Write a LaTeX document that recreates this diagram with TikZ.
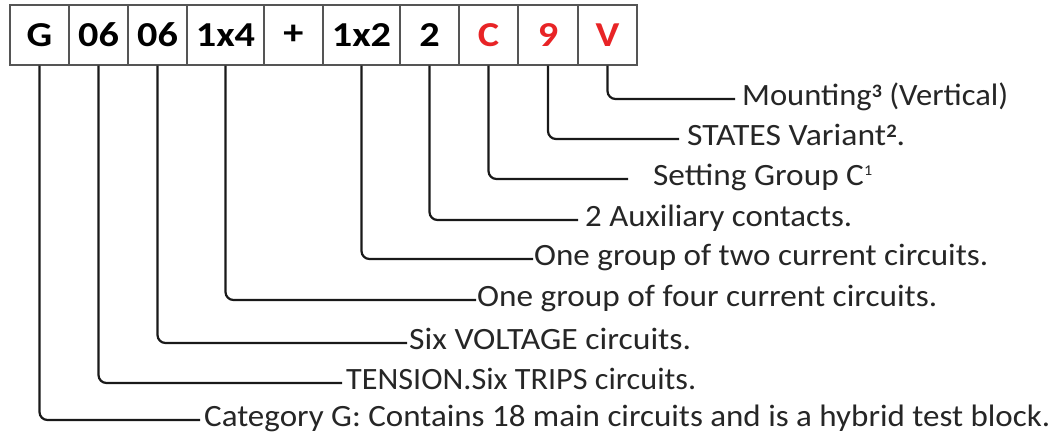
\documentclass[tikz,border=0pt]{standalone}
\usepackage{fontspec}
\setmainfont{Carlito}
\usepackage{graphicx}
\definecolor{redc}{RGB}{232,36,38}
\definecolor{txt}{RGB}{38,38,38}
\definecolor{cellline}{RGB}{85,85,85}
\newcommand{\supdig}[1]{\raisebox{8pt}{\fontsize{19}{19}\selectfont\bfseries #1}}
\begin{document}
\begin{tikzpicture}[x=1pt,y=-1pt,
  cell/.style={draw=cellline,line width=1.4pt,minimum height=60pt,inner sep=0pt,
    font=\fontsize{35}{40}\selectfont\bfseries,text=black},
  redtxt/.style={text=redc},
  lab/.style={anchor=base west,inner sep=0pt,text=txt,font=\fontsize{31}{37}\selectfont},
  conn/.style={draw=black!90,line width=2.2pt,rounded corners=8pt}]
\useasboundingbox (0,0) rectangle (1055,435);
\fill[white] (0,0) rectangle (1055,435);

% code cells
\node[cell,minimum width=59pt] (bG)  at (39.5,35)  {\scalebox{1.15}[1]{G}};
\node[cell,minimum width=59pt] (bT)  at (98.5,35)  {\scalebox{1.15}[1]{06}};
\node[cell,minimum width=59pt] (bV6) at (157.5,35) {\scalebox{1.15}[1]{06}};
\node[cell,minimum width=77pt] (bF)  at (225.5,35) {\scalebox{1.15}[1]{1x4}};
\node[cell,minimum width=59pt] (bP)  at (293.5,35) {\scalebox{1.15}[1]{+}};
\node[cell,minimum width=77pt] (bW)  at (361.5,35) {\scalebox{1.15}[1]{1x2}};
\node[cell,minimum width=59pt] (bA)  at (429.5,35) {\scalebox{1.15}[1]{2}};
\node[cell,minimum width=59pt,redtxt] (bC)  at (488.5,35) {\scalebox{1.15}[1]{C}};
\node[cell,minimum width=60pt,redtxt] (bN)  at (548,35)   {\scalebox{1.15}[1]{9}};
\node[cell,minimum width=59pt,redtxt] (bM)  at (607.5,35) {\scalebox{1.15}[1]{V}};

% labels (baseline = line y + 7)
\node[lab] (lM) at (742,106) {\resizebox{266pt}{\height}{Mounting\supdig{3} (Vertical)}};
\node[lab] (lN) at (687,146) {\resizebox{218pt}{\height}{STATES Variant\supdig{2}.}};
\node[lab] (lC) at (653,186) {\resizebox{219pt}{\height}{Setting Group C\raisebox{10pt}{\fontsize{15}{15}\selectfont 1}}};
\node[lab] (lA) at (585,227) {\resizebox{267pt}{\height}{2 Auxiliary contacts.}};
\node[lab] (lW) at (534,266) {\resizebox{454pt}{\height}{One group of two current circuits.}};
\node[lab] (lF) at (477,307) {\resizebox{460pt}{\height}{One group of four current circuits.}};
\node[lab] (lV6) at (409,350) {\resizebox{282pt}{\height}{Six VOLTAGE circuits.}};
\node[lab] (lT) at (346,390) {\resizebox{350pt}{\height}{TENSION.Six TRIPS circuits.}};
\node[lab] (lG) at (204,427) {\resizebox{846pt}{\height}{Category G: Contains 18 main circuits and is a hybrid test block.}};

% connectors
\draw[conn] (bM.south)  |- ([xshift=-7pt,yshift=7pt]lM.base west);
\draw[conn] (bN.south)  |- ([xshift=-8pt,yshift=7pt]lN.base west);
\draw[conn] (bC.south)  |- ([xshift=-25pt,yshift=7pt]lC.base west);
\draw[conn] (bA.south)  |- ([xshift=-7pt,yshift=7pt]lA.base west);
\draw[conn] (bW.south)  |- ([xshift=-1pt,yshift=7pt]lW.base west);
\draw[conn] (bF.south)  |- ([xshift=-1pt,yshift=7pt]lF.base west);
\draw[conn] (bV6.south) |- ([xshift=-2pt,yshift=7pt]lV6.base west);
\draw[conn] (bT.south)  |- ([xshift=-4pt,yshift=7pt]lT.base west);
\draw[conn] (bG.south)  |- ([xshift=-4pt,yshift=7pt]lG.base west);
\end{tikzpicture}
\end{document}
